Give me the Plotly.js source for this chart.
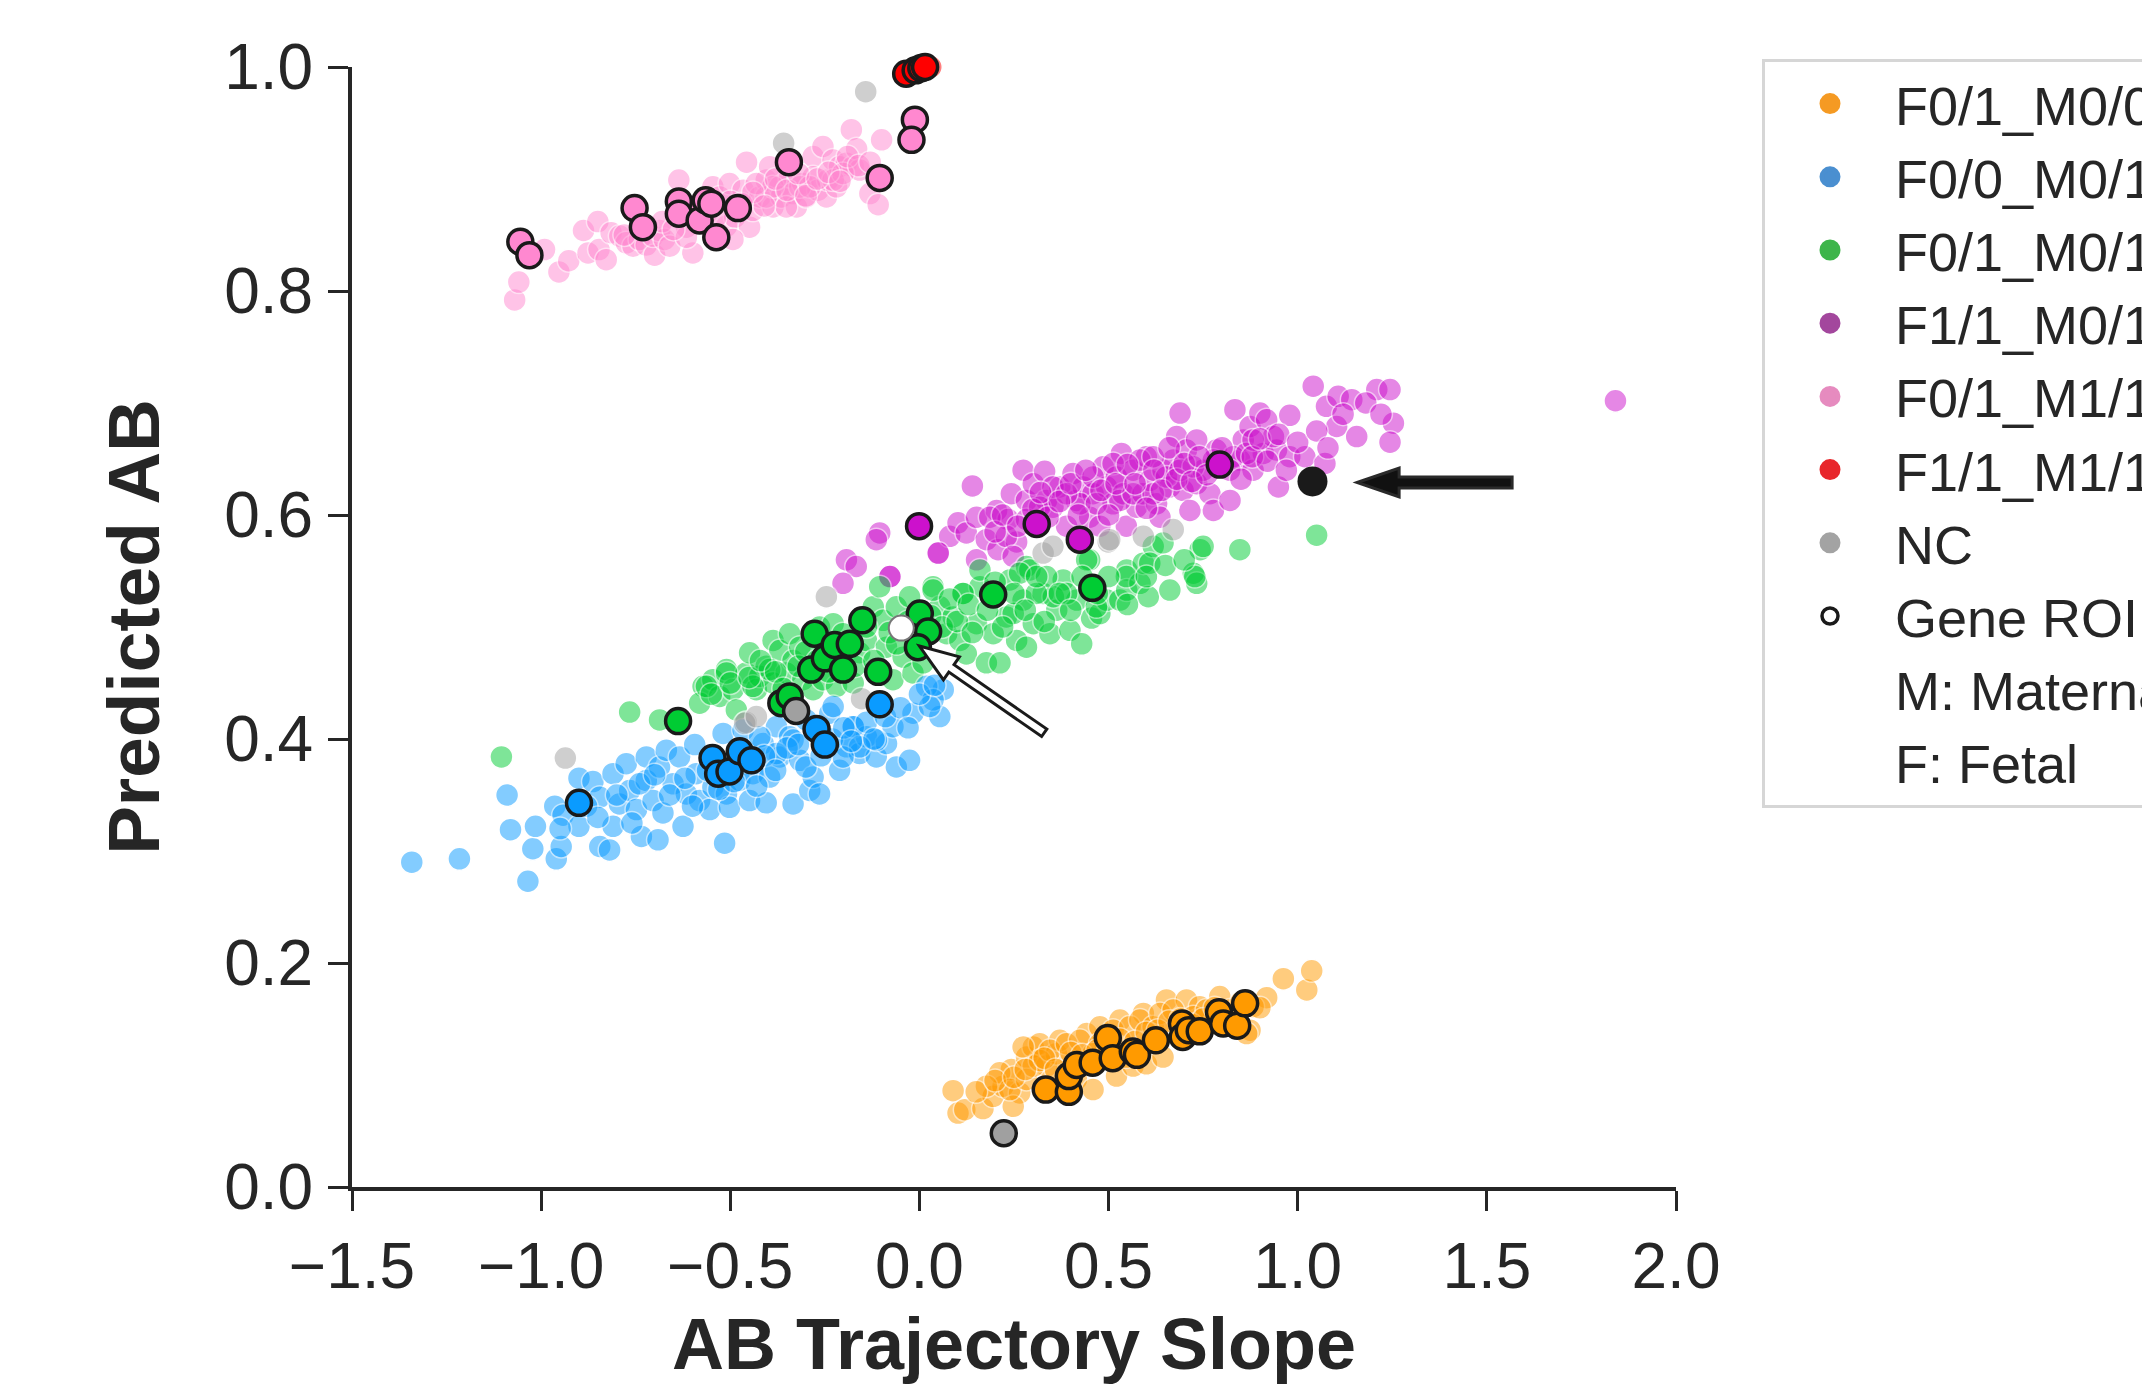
<!DOCTYPE html>
<html><head><meta charset="utf-8">
<script src="https://cdn.plot.ly/plotly-3.0.1.min.js"></script>
<style>html,body{margin:0;padding:0;background:#fff}#chart{width:2142px;height:1384px}</style>
</head><body><div id="chart"></div><script>
// ---------- data: [AB Trajectory Slope, Predicted AB] ----------
const orangeBg = [[0.089,0.086],[0.102,0.066],[0.120,0.069],[0.168,0.070],[0.195,0.081],[0.221,0.090],[0.243,0.105],[0.265,0.084],[0.248,0.072],[0.283,0.116],[0.301,0.125],[0.318,0.128],[0.336,0.108],[0.362,0.119],[0.371,0.131],[0.415,0.096],[0.442,0.137],[0.459,0.087],[0.477,0.143],[0.521,0.099],[0.530,0.149],[0.565,0.108],[0.592,0.155],[0.600,0.110],[0.644,0.116],[0.653,0.167],[0.706,0.167],[0.741,0.161],[0.794,0.170],[0.874,0.140],[0.918,0.169],[0.962,0.186],[1.024,0.176],[1.037,0.193],[0.212,0.102],[0.239,0.087],[0.283,0.096],[0.301,0.108],[0.318,0.113],[0.345,0.122],[0.389,0.128],[0.424,0.131],[0.477,0.128],[0.512,0.140],[0.556,0.143],[0.583,0.149],[0.618,0.143],[0.636,0.155],[0.671,0.158],[0.724,0.152],[0.759,0.158],[0.777,0.146],[0.821,0.158],[0.882,0.161],[0.865,0.137],[0.177,0.090],[0.274,0.125],[0.459,0.119],[0.547,0.116],
  [0.150,0.085],[0.200,0.095],[0.250,0.098],[0.280,0.105],[0.330,0.115],[0.360,0.105],[0.400,0.120],[0.430,0.118],[0.470,0.122],[0.500,0.125],[0.530,0.132],[0.570,0.130],[0.600,0.138],[0.630,0.140],[0.660,0.148],[0.690,0.150],[0.720,0.145],[0.750,0.150],[0.780,0.160],[0.820,0.150],[0.850,0.165],[0.900,0.160]];
const orangeRoi = [[0.334,0.087],[0.395,0.085],[0.395,0.099],[0.416,0.109],[0.458,0.111],[0.498,0.133],[0.511,0.115],[0.564,0.121],[0.575,0.118],[0.625,0.131],[0.694,0.146],[0.696,0.134],[0.712,0.140],[0.741,0.139],[0.792,0.156],[0.803,0.146],[0.840,0.144],[0.861,0.164]];

const blueBg = [[-1.342,0.290],[-1.216,0.293],[-1.035,0.273],[-1.090,0.350],[-1.081,0.319],[-1.022,0.302],[-1.015,0.322],[-0.964,0.340],[-0.960,0.293],[-0.947,0.304],[-0.942,0.332],[-0.900,0.365],[-0.900,0.322],[-0.863,0.362],[-0.845,0.348],[-0.845,0.304],[-0.819,0.301],[-0.810,0.369],[-0.810,0.322],[-0.793,0.342],[-0.775,0.378],[-0.766,0.354],[-0.748,0.337],[-0.735,0.313],[-0.722,0.384],[-0.722,0.363],[-0.704,0.345],[-0.691,0.310],[-0.687,0.375],[-0.678,0.334],[-0.669,0.390],[-0.651,0.360],[-0.634,0.384],[-0.625,0.322],[-0.616,0.351],[-0.594,0.395],[-0.590,0.369],[-0.581,0.345],[-0.554,0.337],[-0.546,0.357],[-0.519,0.405],[-0.515,0.307],[-0.510,0.351],[-0.502,0.339],[-0.475,0.363],[-0.466,0.408],[-0.449,0.345],[-0.440,0.369],[-0.413,0.396],[-0.405,0.343],[-0.396,0.366],[-0.378,0.411],[-0.369,0.384],[-0.343,0.402],[-0.334,0.342],[-0.316,0.381],[-0.299,0.417],[-0.290,0.354],[-0.281,0.366],[-0.264,0.351],[-0.237,0.423],[-0.211,0.372],[-0.193,0.393],[-0.175,0.411],[-0.158,0.387],[-0.140,0.402],[-0.114,0.384],[-0.087,0.396],[-0.061,0.375],[0.063,0.444],[0.019,0.447],[0.054,0.420],[-0.017,0.423],[-0.070,0.411],[-0.114,0.399],[-0.026,0.381],[-0.175,0.411],[-0.158,0.393],[-0.228,0.429],[-0.202,0.384],[-0.334,0.399],[-0.378,0.387],[-0.422,0.402],[0.036,0.435],[0.027,0.429],
  [-0.950,0.320],[-0.880,0.340],[-0.850,0.330],[-0.800,0.350],[-0.760,0.325],[-0.740,0.360],[-0.700,0.368],[-0.660,0.350],[-0.620,0.365],[-0.600,0.340],[-0.560,0.372],[-0.530,0.355],[-0.490,0.362],[-0.460,0.380],[-0.430,0.358],[-0.410,0.385],[-0.380,0.372],[-0.350,0.392],[-0.320,0.395],[-0.300,0.375],[-0.260,0.385],[-0.230,0.400],[-0.200,0.410],[-0.180,0.398],[-0.140,0.415],[-0.120,0.400],[-0.090,0.420],[-0.050,0.428],[-0.030,0.410],[0.000,0.440],[0.040,0.448]];
const blueRoi = [[-0.900,0.343],[-0.547,0.383],[-0.532,0.369],[-0.502,0.371],[-0.475,0.389],[-0.444,0.381],[-0.272,0.409],[-0.250,0.395],[-0.105,0.431]];

const greenBg = [[-1.105,0.384],[-0.766,0.424],[-0.687,0.417],[-0.572,0.447],[-0.581,0.432],[-0.546,0.453],[-0.528,0.438],[-0.510,0.462],[-0.493,0.444],[-0.484,0.426],[-0.458,0.459],[-0.449,0.477],[-0.431,0.444],[-0.422,0.456],[-0.405,0.465],[-0.387,0.488],[-0.387,0.450],[-0.369,0.479],[-0.352,0.459],[-0.343,0.494],[-0.334,0.470],[-0.316,0.482],[-0.308,0.453],[-0.281,0.444],[-0.264,0.500],[-0.255,0.453],[-0.228,0.503],[-0.219,0.447],[-0.202,0.494],[-0.175,0.450],[-0.158,0.477],[-0.140,0.488],[-0.122,0.518],[-0.105,0.536],[-0.096,0.506],[-0.087,0.482],[-0.070,0.453],[-0.061,0.518],[-0.043,0.473],[-0.026,0.527],[-0.017,0.459],[0.010,0.468],[0.036,0.536],[0.054,0.518],[0.072,0.494],[0.089,0.509],[0.107,0.488],[0.116,0.530],[0.124,0.476],[0.151,0.503],[0.160,0.536],[0.177,0.468],[0.195,0.494],[0.230,0.509],[0.239,0.542],[0.257,0.488],[0.274,0.524],[0.283,0.554],[0.301,0.503],[0.327,0.530],[0.345,0.494],[0.363,0.515],[0.380,0.542],[0.398,0.497],[0.416,0.524],[-0.563,0.447],[-0.510,0.459],[-0.440,0.447],[-0.396,0.462],[0.213,0.468],[0.248,0.512],[0.283,0.482],[0.292,0.551],[0.354,0.527],[0.389,0.530],[0.429,0.485],[0.450,0.560],[0.455,0.508],[0.477,0.512],[0.495,0.524],[0.530,0.524],[0.548,0.551],[0.548,0.533],[0.583,0.539],[0.592,0.557],[0.605,0.527],[0.618,0.572],[0.644,0.575],[0.662,0.533],[0.724,0.548],[0.733,0.539],[0.742,0.569],[0.750,0.572],[0.847,0.569],[1.050,0.582],[0.728,0.545],[0.609,0.557],[0.547,0.545],[0.468,0.518],[0.336,0.545],[0.309,0.530],[0.265,0.548],[0.160,0.551],[0.115,0.530],[0.036,0.533],[0.442,0.560],
  [-0.550,0.440],[-0.500,0.450],[-0.450,0.455],[-0.420,0.470],[-0.380,0.460],[-0.360,0.445],[-0.320,0.465],[-0.300,0.478],[-0.270,0.470],[-0.240,0.460],[-0.200,0.478],[-0.170,0.465],[-0.140,0.500],[-0.120,0.470],[-0.080,0.495],[-0.060,0.485],[-0.030,0.505],[0.000,0.495],[0.030,0.510],[0.060,0.500],[0.080,0.525],[0.100,0.505],[0.130,0.520],[0.140,0.495],[0.180,0.515],[0.200,0.540],[0.220,0.500],[0.250,0.530],[0.280,0.515],[0.310,0.545],[0.330,0.505],[0.370,0.530],[0.400,0.515],[0.430,0.545],[0.470,0.530],[0.500,0.545],[0.550,0.520],[0.600,0.545],[0.650,0.555],[0.700,0.560]];
const greenRoi = [[-0.638,0.416],[-0.365,0.432],[-0.343,0.438],[-0.286,0.462],[-0.277,0.494],[-0.250,0.472],[-0.224,0.484],[-0.184,0.485],[-0.202,0.462],[-0.151,0.506],[-0.109,0.460],[0.001,0.512],[0.023,0.496],[-0.004,0.482],[0.195,0.529],[0.457,0.535]];

const magentaBg = [[-0.105,0.584],[-0.078,0.545],[0.049,0.566],[0.080,0.581],[0.102,0.593],[0.124,0.584],[0.140,0.626],[0.151,0.598],[0.151,0.560],[0.177,0.578],[0.204,0.604],[0.208,0.569],[0.235,0.596],[0.243,0.619],[0.257,0.576],[0.274,0.640],[0.283,0.613],[0.301,0.628],[0.331,0.639],[0.336,0.613],[0.353,0.607],[0.371,0.625],[0.389,0.590],[0.406,0.637],[0.415,0.613],[0.433,0.625],[0.450,0.598],[0.459,0.619],[0.477,0.590],[0.486,0.643],[0.495,0.625],[0.512,0.610],[0.521,0.634],[0.534,0.655],[0.539,0.619],[0.547,0.590],[0.565,0.640],[0.574,0.607],[0.591,0.619],[0.600,0.652],[0.609,0.631],[0.627,0.610],[0.636,0.598],[0.644,0.640],[0.662,0.625],[0.671,0.649],[0.680,0.670],[0.689,0.691],[0.697,0.622],[0.706,0.658],[0.715,0.604],[0.733,0.667],[0.733,0.628],[0.750,0.640],[0.768,0.619],[0.777,0.604],[0.785,0.658],[0.821,0.613],[0.834,0.694],[0.847,0.649],[0.856,0.667],[0.874,0.679],[0.882,0.640],[0.900,0.691],[0.909,0.655],[0.918,0.685],[0.944,0.658],[0.949,0.625],[0.979,0.689],[0.979,0.652],[1.019,0.652],[1.041,0.715],[1.072,0.646],[1.076,0.697],[1.107,0.706],[1.143,0.703],[1.103,0.679],[1.156,0.670],[1.209,0.712],[1.244,0.712],[1.253,0.682],[1.244,0.665],[1.840,0.702],[0.424,0.610],[0.468,0.610],[0.530,0.613],[0.565,0.619],[0.618,0.619],[0.653,0.634],[0.689,0.640],[0.724,0.643],[0.777,0.649],[0.830,0.652],[0.865,0.655],[0.936,0.670],[0.882,0.667],[0.283,0.596],[0.318,0.607],[0.353,0.625],[0.389,0.619],[0.459,0.634],[0.512,0.646],[0.583,0.649],[0.618,0.652],[0.230,0.581],[0.186,0.598],[0.248,0.563],[-0.193,0.560],[-0.167,0.554],[-0.202,0.539],[-0.078,0.545],[0.050,0.566],[-0.114,0.578],
  [0.200,0.585],[0.220,0.600],[0.260,0.590],[0.300,0.605],[0.320,0.620],[0.340,0.598],[0.370,0.612],[0.400,0.628],[0.420,0.600],[0.440,0.640],[0.480,0.622],[0.500,0.600],[0.520,0.628],[0.550,0.645],[0.570,0.628],[0.600,0.606],[0.620,0.640],[0.640,0.622],[0.660,0.660],[0.680,0.632],[0.700,0.646],[0.720,0.630],[0.740,0.652],[0.760,0.636],[0.800,0.660],[0.820,0.640],[0.850,0.632],[0.880,0.652],[0.900,0.668],[0.920,0.648],[0.950,0.672],[0.970,0.640],[1.000,0.665],[1.050,0.675],[1.080,0.660],[1.120,0.690],[1.180,0.700],[1.220,0.690]];
const magentaRoi = [[-0.001,0.590],[0.310,0.592],[0.424,0.578],[0.794,0.645]];

const pinkBg = [[-1.070,0.792],[-1.059,0.808],[-0.991,0.837],[-0.953,0.817],[-0.927,0.827],[-0.888,0.854],[-0.876,0.834],[-0.850,0.862],[-0.847,0.837],[-0.828,0.828],[-0.815,0.852],[-0.792,0.849],[-0.775,0.843],[-0.757,0.840],[-0.740,0.846],[-0.722,0.841],[-0.700,0.832],[-0.704,0.849],[-0.687,0.854],[-0.674,0.846],[-0.660,0.840],[-0.636,0.899],[-0.616,0.857],[-0.599,0.834],[-0.599,0.872],[-0.563,0.869],[-0.546,0.893],[-0.528,0.884],[-0.510,0.858],[-0.502,0.896],[-0.488,0.866],[-0.466,0.890],[-0.457,0.915],[-0.449,0.857],[-0.440,0.872],[-0.422,0.884],[-0.405,0.899],[-0.396,0.911],[-0.387,0.875],[-0.369,0.893],[-0.365,0.884],[-0.343,0.902],[-0.334,0.887],[-0.325,0.875],[-0.308,0.896],[-0.299,0.884],[-0.281,0.920],[-0.281,0.902],[-0.268,0.890],[-0.255,0.929],[-0.246,0.884],[-0.242,0.899],[-0.228,0.917],[-0.219,0.893],[-0.211,0.911],[-0.193,0.914],[-0.180,0.944],[-0.175,0.911],[-0.166,0.927],[-0.158,0.908],[-0.131,0.887],[-0.109,0.877],[-0.100,0.935],[-0.616,0.848],[-0.546,0.851],[-0.493,0.846],[-0.405,0.884],[-0.387,0.893],[-0.316,0.893],[-0.290,0.893],[-0.228,0.899],[-0.202,0.905],[-0.431,0.896],[-0.352,0.875],
  [-0.780,0.850],[-0.720,0.858],[-0.680,0.862],[-0.650,0.855],[-0.620,0.870],[-0.580,0.872],[-0.540,0.865],[-0.500,0.880],[-0.470,0.878],[-0.440,0.888],[-0.410,0.876],[-0.380,0.900],[-0.350,0.890],[-0.320,0.905],[-0.300,0.885],[-0.270,0.900],[-0.240,0.906],[-0.210,0.898],[-0.190,0.920],[-0.160,0.912],[-0.130,0.915]];
const pinkRoi = [[-1.055,0.844],[-1.031,0.832],[-0.753,0.874],[-0.731,0.857],[-0.636,0.880],[-0.636,0.869],[-0.581,0.863],[-0.565,0.881],[-0.550,0.878],[-0.537,0.848],[-0.480,0.874],[-0.345,0.915],[-0.105,0.901],[-0.012,0.953],[-0.021,0.935]];

const redBg = [[0.030,1.000],[0.000,0.998]];
const redRoi = [[-0.035,0.994],[-0.010,0.997],[0.005,0.999],[0.015,1.000]];

const ncBg = [[-0.142,0.978],[-0.359,0.932],[-0.936,0.383],[-0.246,0.527],[-0.153,0.436],[-0.458,0.415],[-0.462,0.414],[-0.431,0.420],[0.327,0.566],[0.353,0.572],[0.499,0.576],[0.592,0.581],[0.671,0.587],[0.503,0.578]];
const ncRoi = [[0.223,0.048],[-0.326,0.425]];

const highlightBlack = [[1.039,0.630]];
const highlightWhite = [[-0.048,0.499]];

const groupNames = ['F0/1_M0/0','F0/0_M0/1','F0/1_M0/1','F1/1_M0/1','F0/1_M1/1','F1/1_M1/1','NC'];
const legendColors = ['#f59a23','#4a8fd0','#3db54a','#a3479d','#e68bbf','#e8262b','#a3a3a3'];
const extraLegend = ['Gene ROI','M: Maternal','F: Fetal'];
const xTickVals = [-1.5,-1.0,-0.5,0.0,0.5,1.0,1.5,2.0];
const xTickText = ['\u22121.5','\u22121.0','\u22120.5','0.0','0.5','1.0','1.5','2.0'];
const yTickVals = [0,0.2,0.4,0.6,0.8,1.0];
const yTickText = ['0.0','0.2','0.4','0.6','0.8','1.0'];

// ---------- styling ----------
const FONT = 'Liberation Sans, Arial, Helvetica, sans-serif';
const INK = '#262626';
const col = {orange:'#ff9a00', blue:'#0a9bff', green:'#00cc33', magenta:'#cc11cc', pink:'#ff88d0', red:'#ff0000', nc:'#a0a0a0'};

const xs = a => a.map(p => p[0]);
const ys = a => a.map(p => p[1]);
function bg(d, c) {
  return {type:'scatter', mode:'markers', x:xs(d), y:ys(d), showlegend:false, hoverinfo:'skip', cliponaxis:false,
    marker:{size:23, color:c, opacity:0.5, line:{color:'#ffffff', width:1.5}}};
}
function roi(d, c) {
  return {type:'scatter', mode:'markers', x:xs(d), y:ys(d), showlegend:false, hoverinfo:'skip', cliponaxis:false,
    marker:{size:25, color:c, opacity:1, line:{color:'#1a1a1a', width:3.5}}};
}

const traces = [
  bg(pinkBg, col.pink), bg(magentaBg, col.magenta), bg(greenBg, col.green), bg(blueBg, col.blue),
  bg(orangeBg, col.orange), bg(redBg, col.red), bg(ncBg, col.nc),
  roi(pinkRoi, col.pink), roi(magentaRoi, col.magenta), roi(greenRoi, col.green), roi(blueRoi, col.blue),
  roi(orangeRoi, col.orange), roi(redRoi, col.red), roi(ncRoi, col.nc),
  {type:'scatter', mode:'markers', x:xs(highlightWhite), y:ys(highlightWhite), showlegend:false, hoverinfo:'skip', cliponaxis:false,
    marker:{size:25, color:'#ffffff', line:{color:'#777777', width:2}}},
  {type:'scatter', mode:'markers', x:xs(highlightBlack), y:ys(highlightBlack), showlegend:false, hoverinfo:'skip', cliponaxis:false,
    marker:{size:30, color:'#1a1a1a', line:{width:0}}}
];
groupNames.forEach((n, i) => traces.push({type:'scatter', mode:'markers', x:[null], y:[null], name:n, showlegend:true,
  marker:{size:16, color:legendColors[i], line:{color:legendColors[i], width:5}}}));
traces.push({type:'scatter', mode:'markers', x:[null], y:[null], name:extraLegend[0], showlegend:true,
  marker:{size:16, color:'#ffffff', line:{color:'#1a1a1a', width:3.5}}});
traces.push({type:'scatter', mode:'markers', x:[null], y:[null], name:extraLegend[1], showlegend:true,
  marker:{size:16, color:'rgba(0,0,0,0)', line:{width:0}}});
traces.push({type:'scatter', mode:'markers', x:[null], y:[null], name:extraLegend[2], showlegend:true,
  marker:{size:16, color:'rgba(0,0,0,0)', line:{width:0}}});

const layout = {
  width:2142, height:1384,
  margin:{l:352, r:466, t:67, b:197, pad:0},
  paper_bgcolor:'#ffffff', plot_bgcolor:'#ffffff',
  font:{family:FONT, color:INK},
  showlegend:true,
  xaxis:{range:[-1.5,2.0], showgrid:false, zeroline:false, showline:true, linecolor:INK, linewidth:4,
    ticks:'outside', ticklen:20, tickwidth:3, tickcolor:INK, tickmode:'array', tickvals:xTickVals, ticktext:xTickText,
    tickfont:{family:FONT, size:64, color:INK}, ticklabelstandoff:0, automargin:false,
    title:{text:'AB Trajectory Slope\u00a0', font:{family:FONT, size:72, color:INK, weight:700}, standoff:46}},
  yaxis:{range:[0,1.0], showgrid:false, zeroline:false, showline:true, linecolor:INK, linewidth:4,
    ticks:'outside', ticklen:20, tickwidth:3, tickcolor:INK, tickmode:'array', tickvals:yTickVals, ticktext:yTickText,
    tickfont:{family:FONT, size:64, color:INK}, ticklabelstandoff:2, automargin:false,
    title:{text:'Predicted AB', font:{family:FONT, size:73, color:INK, weight:700}, standoff:42}},
  legend:{xref:'container', yref:'container', x:1762/2142, y:1-59/1384, xanchor:'left', yanchor:'top',
    bgcolor:'#ffffff', bordercolor:'#d6d6d6', borderwidth:3, itemwidth:120, maxheight:1300,
    font:{family:FONT, size:54, color:INK}, tracegroupgap:0, itemclick:false, itemdoubleclick:false},
  shapes:[
    {type:'path', xref:'x', yref:'y', xsizemode:'pixel', ysizemode:'pixel', xanchor:1.157, yanchor:0.629, layer:'above',
      path:'M0,0 L42,14.5 L42,5.5 L155,5.5 L155,-5.5 L42,-5.5 L42,-14.5 Z', fillcolor:'#111111', line:{color:'#2a2a2a', width:3}},
    {type:'path', xref:'x', yref:'y', xsizemode:'pixel', ysizemode:'pixel', xanchor:0.0, yanchor:0.483, layer:'above',
      path:'M0,0 L40.0,-10.8 L34.6,-18.6 L127.4,-83.1 L122.2,-90.5 L29.4,-26.0 L24.0,-33.8 Z', fillcolor:'#ffffff', line:{color:'#1a1a1a', width:3}}
  ]
};

Plotly.newPlot('chart', traces, layout, {staticPlot:true, displayModeBar:false});
</script></body></html>
